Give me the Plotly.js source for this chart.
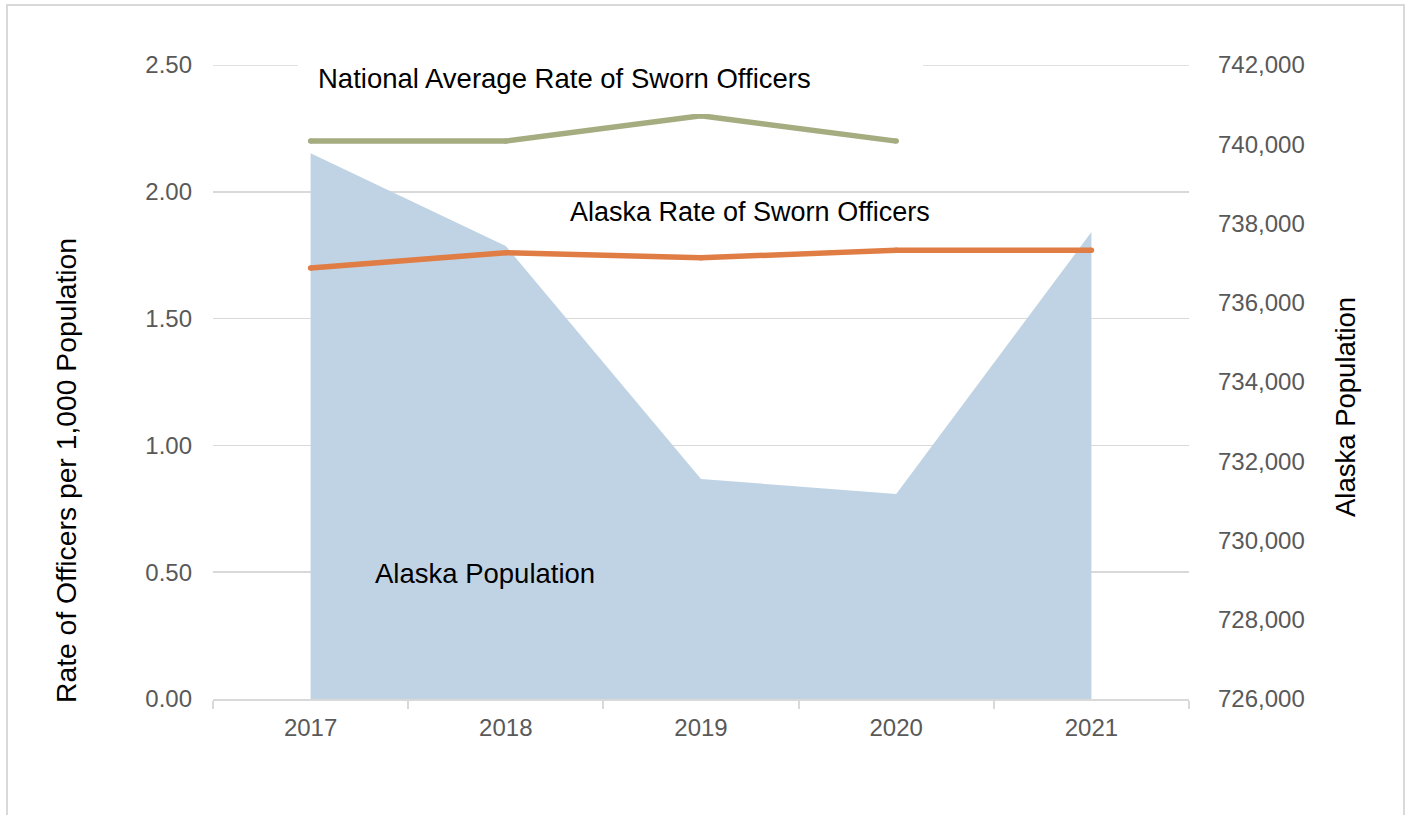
<!DOCTYPE html>
<html>
<head>
<meta charset="utf-8">
<script src="https://cdn.plot.ly/plotly-3.0.1.min.js"></script>
<style>
  html, body { margin: 0; padding: 0; background: #ffffff; overflow: hidden; }
  #frame { position: absolute; left: 6px; top: 4px; width: 1399px; height: 840px; border: 2px solid #d9d9d9; box-sizing: border-box; pointer-events: none; z-index: 5; }
  #chart { position: absolute; left: 0; top: 0; width: 1408px; height: 815px; }
</style>
</head>
<body>
<div id="chart"></div>
<div id="frame"></div>
<script>
// ---- Data ----
const years = ["2017", "2018", "2019", "2020", "2021"];
const alaskaPopulation = [739772, 737432, 731552, 731174, 737785];
const alaskaRate = [1.70, 1.76, 1.74, 1.77, 1.77];
const nationalRate = [2.2, 2.2, 2.3, 2.2, null];

const rateTicks = [0, 0.5, 1.0, 1.5, 2.0, 2.5];
const popTicks = [726000, 728000, 730000, 732000, 734000, 736000, 738000, 740000, 742000];

const FONT = "Liberation Sans, Arial, sans-serif";
const TICK_COLOR = "#595959";
const GRID = "#d9d9d9";

const traces = [
  {
    name: "Alaska Population",
    x: years, y: alaskaPopulation,
    type: "scatter", mode: "lines",
    fill: "tozeroy", fillcolor: "#c0d3e4",
    line: { width: 0, color: "#c0d3e4" },
    xaxis: "x", yaxis: "y",
    hoverinfo: "skip"
  },
  {
    name: "National Average Rate of Sworn Officers",
    x: years, y: nationalRate,
    type: "scatter", mode: "lines+markers",
    line: { color: "#a4ac80", width: 5.5 },
    marker: { color: "#a4ac80", size: 5.5 },
    connectgaps: false,
    xaxis: "x", yaxis: "y2"
  },
  {
    name: "Alaska Rate of Sworn Officers",
    x: years, y: alaskaRate,
    type: "scatter", mode: "lines+markers",
    line: { color: "#df7d45", width: 5.5 },
    marker: { color: "#df7d45", size: 5.5 },
    xaxis: "x", yaxis: "y2"
  }
];

const topRate = rateTicks[rateTicks.length - 1];

const layout = {
  width: 1408, height: 815,
  margin: { l: 213, r: 219, t: 65, b: 116 },
  paper_bgcolor: "#ffffff", plot_bgcolor: "rgba(0,0,0,0)",
  showlegend: false,
  font: { family: FONT, color: TICK_COLOR, size: 24 },
  xaxis: {
    type: "category",
    range: [-0.5, 4.5],
    showline: true, linecolor: GRID, linewidth: 2,
    ticks: "outside", tickson: "boundaries", ticklen: 8, tickcolor: GRID, tickwidth: 2,
    ticklabelstandoff: 6,
    showgrid: false, zeroline: false,
    tickfont: { family: FONT, size: 24, color: TICK_COLOR }
  },
  yaxis: {
    side: "right",
    range: [726000, 742001],
    tickvals: popTicks,
    tickformat: ",",
    showgrid: false, zeroline: false, showline: false, ticks: "",
    ticklabelstandoff: 28,
    tickfont: { family: FONT, size: 24, color: TICK_COLOR }
  },
  yaxis2: {
    overlaying: "y", side: "left",
    range: [0, 2.50015],
    tickvals: rateTicks,
    tickformat: ".2f",
    showgrid: true, gridcolor: GRID, gridwidth: 1.5,
    zeroline: false, showline: false, ticks: "",
    ticklabelstandoff: 20,
    tickfont: { family: FONT, size: 24, color: TICK_COLOR }
  },
  shapes: [
    {
      type: "line", layer: "below",
      xref: "paper", x0: 0, x1: 1,
      yref: "y2", y0: topRate, y1: topRate,
      line: { color: GRID, width: 1.5 }
    }
  ],
  annotations: [
    {
      text: "National Average Rate of Sworn Officers",
      xref: "paper", yref: "paper", x: 0.0871, y: 0.978,
      xanchor: "left", yanchor: "middle",
      width: 585, align: "left", borderpad: 20, borderwidth: 0,
      bgcolor: "#ffffff", showarrow: false,
      font: { family: FONT, size: 27.5, color: "#000000" }
    },
    {
      text: "Alaska Rate of Sworn Officers",
      xref: "paper", yref: "paper", x: 0.5497, y: 0.7681,
      xanchor: "center", yanchor: "middle", showarrow: false,
      font: { family: FONT, size: 27, color: "#000000" }
    },
    {
      text: "Alaska Population",
      xref: "paper", yref: "paper", x: 0.2792, y: 0.1987,
      xanchor: "center", yanchor: "middle", showarrow: false,
      font: { family: FONT, size: 27.5, color: "#000000" }
    },
    {
      text: "Rate of Officers per 1,000 Population",
      xref: "paper", yref: "paper", x: -0.1506, y: 0.3596,
      xanchor: "center", yanchor: "middle", textangle: -90, showarrow: false,
      font: { family: FONT, size: 28.3, color: "#000000" }
    },
    {
      text: "Alaska Population",
      xref: "paper", yref: "paper", x: 1.1609, y: 0.4606,
      xanchor: "center", yanchor: "middle", textangle: -90, showarrow: false,
      font: { family: FONT, size: 27.5, color: "#000000" }
    }
  ]
};

Plotly.newPlot("chart", traces, layout, { displayModeBar: false, staticPlot: true });
</script>
</body>
</html>
